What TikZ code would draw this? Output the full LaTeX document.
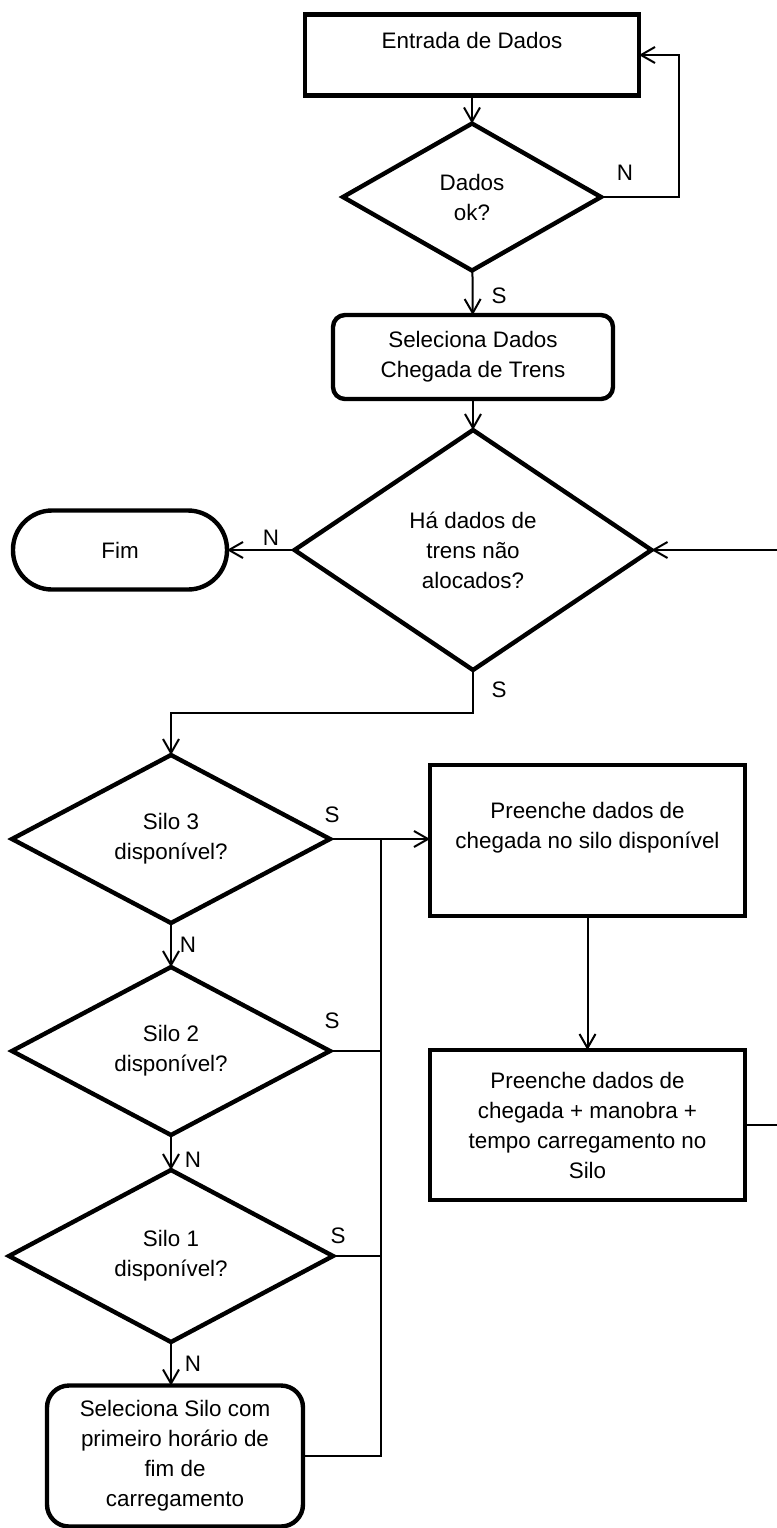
\documentclass[tikz,border=0pt]{standalone}
\usepackage{fontspec}
\setmainfont{Liberation Sans}
\usetikzlibrary{shapes.geometric, arrows.meta}

\tikzset{
    every node/.style={font=\fontsize{11.2}{15}\selectfont, align=center},
    procbox/.style={draw, line width=2.2pt, rectangle, inner sep=0pt, outer sep=0pt},
    selbox/.style={procbox, rounded corners=6pt},
    decision/.style={draw, line width=2.2pt, diamond, inner sep=0pt, outer sep=0pt},
    fimbox/.style={procbox, rounded corners=19.5pt},
    conn/.style={line width=1pt, -{Straight Barb[length=7pt, width=8pt]}},
    wire/.style={line width=1pt},
    lbl/.style={inner sep=0pt}
}

\begin{document}
\begin{tikzpicture}[x=0.5pt, y=-0.5pt]

    \clip (0, 0) rectangle (777, 1528);

    \node[  procbox,
            minimum width=167pt,
            minimum height=40.5pt] (entrada) at (472, 55)
            {Entrada de Dados\\~};

    \node[  decision,
            minimum width=129pt,
            minimum height=73.5pt] (dadosok) at (472, 197)
            {Dados\\ok?};

    \node[  selbox,
            minimum width=140pt,
            minimum height=42pt] (seldados) at (473, 357)
            {Seleciona Dados\\Chegada de Trens};

    \node[  decision,
            minimum width=178.5pt,
            minimum height=120pt] (trens) at (473, 550)
            {Há dados de\\trens não\\alocados?};

    \node[  fimbox,
            minimum width=107pt,
            minimum height=39.5pt] (fim) at (120, 550)
            {Fim};

    % silos
    \node[decision, minimum width=159pt, minimum height=84pt] (silo3) at (171, 839) {Silo 3\\disponível?};
    \node[decision, minimum width=159pt, minimum height=84pt] (silo2) at (171, 1051) {Silo 2\\disponível?};
    \node[decision, minimum width=162pt, minimum height=86pt] (silo1) at (171, 1256) {Silo 1\\disponível?};

    \node[  procbox,
            rounded corners=11pt,
            minimum width=128pt,
            minimum height=70.5pt] (selsilo) at (175, 1456)
            {Seleciona Silo com\\primeiro horário de\\fim de\\carregamento};

    \node[  procbox,
            minimum width=157.5pt,
            minimum height=75.5pt] (preenche) at (587.5, 840.5)
            {Preenche dados de\\chegada no silo disponível\\~};

    \node[  procbox,
            minimum width=157.5pt,
            minimum height=75pt] (manobra) at (587.5, 1125)
            {Preenche dados de\\chegada + manobra +\\tempo carregamento no\\Silo};

    \coordinate (bus) at (381, 839);
    \coordinate (retorno) at (800, 550);
    \coordinate (saida) at (800, 1125);

    % connectors
    \draw[conn] (entrada) -- (dadosok);
    \draw[conn] (dadosok.east) -- ++(78, 0) |- (entrada.east);
    \draw[conn] (dadosok) -- (seldados);
    \draw[conn] (seldados) -- (trens);
    \draw[conn] (trens.west) -- (fim.east);
    \draw[conn] (retorno) -- (trens.east);
    \draw[conn] (trens.south) -- ++(0, 43) -| (silo3.north);
    \draw[conn] (silo3) -- (silo2);
    \draw[conn] (silo2) -- (silo1);
    \draw[conn] (silo1.south) -- (selsilo.north -| silo1.south);
    \draw[wire] (silo3.east) -- (bus);
    \draw[wire] (silo2.east) -| (bus);
    \draw[wire] (silo1.east) -| (bus);
    \draw[wire] (selsilo.east) -| (bus);
    \draw[conn] (bus) -- (preenche.west |- bus);
    \draw[conn] (preenche) -- (manobra);
    \draw[wire] (manobra.east) -- (saida);

    % N / S labels
    \node[lbl] (n1) at (625, 173) {N};
    \node[lbl] (s1) at (499, 296) {S};
    \node[lbl] (n2) at (271, 538) {N};
    \node[lbl] (s2) at (499, 690) {S};
    \node[lbl] (s3) at (332, 815) {S};
    \node[lbl] (n3) at (188, 945) {N};
    \node[lbl] (s4) at (332, 1021) {S};
    \node[lbl] (n4) at (193, 1160) {N};
    \node[lbl] (s5) at (338, 1236) {S};
    \node[lbl] (n5) at (193, 1364) {N};

\end{tikzpicture}
\end{document}
